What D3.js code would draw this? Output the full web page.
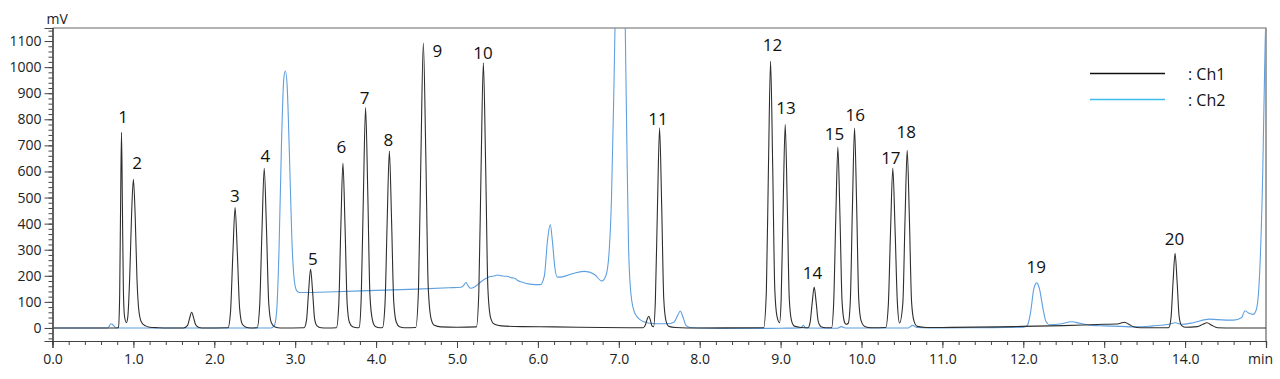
<!DOCTYPE html>
<html>
<head>
<meta charset="utf-8">
<script src="https://cdn.jsdelivr.net/npm/d3@7"></script>
<style>
  html, body { margin: 0; padding: 0; background: #fff; }
  svg { display: block; font-family: "Open Sans", "Noto Sans", sans-serif; }
</style>
</head>
<body>
<svg id="chart" width="1280" height="379"></svg>
<script>
// ---------- DATA ----------
const seriesNames = ["Ch1", "Ch2"];

// Ch1 trace: [time (min), signal (mV)]
const ch1 = [
  [0,0],[0.80,0],[0.815,2],[0.83,120],[0.842,480],[0.853,750],[0.864,470],[0.876,150],[0.89,45],[0.914,20],
  [0.93,40],[0.955,200],[0.978,440],[1.0,570],[1.022,430],[1.044,190],[1.07,60],[1.1,22],[1.15,8],[1.2,3],[1.3,1],[1.45,0],
  [1.62,0],[1.67,10],[1.695,38],[1.72,60],[1.745,38],[1.77,12],[1.81,2],[1.88,0],
  [2.17,1],[2.2,60],[2.229,280],[2.257,462],[2.285,285],[2.313,75],[2.345,15],[2.39,3],[2.45,0],
  [2.53,1],[2.56,80],[2.589,370],[2.617,612],[2.645,380],[2.673,95],[2.705,20],[2.75,4],[2.82,0],
  [3.11,1],[3.14,30],[3.165,137],[3.19,226],[3.215,140],[3.24,35],[3.27,8],[3.32,1],[3.4,0],
  [3.51,1],[3.538,85],[3.564,385],[3.59,632],[3.616,390],[3.642,95],[3.67,22],[3.71,5],[3.77,1],
  [3.79,2],[3.816,115],[3.843,510],[3.87,845],[3.897,520],[3.924,125],[3.955,30],[3.99,6],[4.05,1],
  [4.08,2],[4.11,92],[4.137,410],[4.164,678],[4.191,415],[4.218,100],[4.25,22],[4.29,5],[4.35,1],
  [4.49,2],[4.524,148],[4.554,660],[4.584,1092],[4.614,670],[4.644,160],[4.68,35],[4.72,10],[4.8,4],[5.0,3],
  [5.24,4],[5.27,140],[5.298,620],[5.326,1017],[5.354,625],[5.382,150],[5.415,40],[5.46,15],[5.55,8],[5.8,5],[6.2,4],[6.8,2],[7.2,1],
  [7.3,1],[7.33,12],[7.35,33],[7.37,45],[7.39,30],[7.41,8],[7.43,5],
  [7.452,105],[7.478,465],[7.504,767],[7.53,470],[7.556,110],[7.585,25],[7.62,6],[7.7,2],[8.0,0],
  [8.79,1],[8.824,140],[8.85,620],[8.876,1022],[8.902,625],[8.928,150],[8.955,45],[8.987,20],
  [9.007,110],[9.032,475],[9.057,780],[9.082,480],[9.107,115],[9.135,28],[9.17,7],[9.25,2],
  [9.34,1],[9.365,22],[9.39,95],[9.415,157],[9.44,97],[9.465,25],[9.5,5],[9.56,1],
  [9.63,1],[9.656,95],[9.682,420],[9.708,694],[9.734,425],[9.76,100],[9.79,22],[9.81,14],
  [9.836,18],[9.862,105],[9.888,465],[9.914,766],[9.94,470],[9.966,110],[9.995,28],[10.04,6],[10.12,1],
  [10.3,2],[10.331,85],[10.359,372],[10.387,612],[10.415,378],[10.443,100],[10.47,19],
  [10.511,95],[10.538,415],[10.565,681],[10.592,420],[10.619,100],[10.65,25],[10.69,6],[10.8,2],
  [11.0,2],[11.7,4],[12.0,6],[12.5,9],[13.0,14],[13.15,15],[13.2,18],[13.25,22],[13.3,15],[13.36,5],[13.45,1],[13.78,1],
  [13.8,2],[13.826,40],[13.851,175],[13.876,286],[13.901,178],[13.926,45],[13.955,10],[14.0,3],[14.15,5],[14.22,14],[14.27,20],[14.33,10],[14.4,1],[14.6,0],[15.0,0]
];

// Ch2 trace: [time (min), signal (mV)]
const ch2 = [
  [0,0],[0.68,0],[0.7,6],[0.72,16],[0.74,14],[0.77,4],[0.8,0],[2.7,0],[2.74,8],[2.77,60],[2.8,300],[2.83,700],[2.86,960],[2.879,985],[2.9,930],[2.93,650],[2.96,330],[2.99,180],[3.02,142],[3.05,136],
  [3.5,139],[4.0,144],[4.5,149],[4.9,154],[5.05,156],[5.08,162],[5.11,174],[5.14,160],[5.17,152],[5.22,158],[5.3,178],[5.4,196],[5.47,200],[5.5,203],[5.56,199],[5.62,198],[5.68,192],[5.72,190],[5.75,182],[5.8,176],[5.9,168],[6.03,166],
  [6.08,200],[6.12,340],[6.153,396],[6.18,330],[6.21,230],[6.24,195],[6.3,196],[6.45,210],[6.58,217],[6.7,205],[6.79,180],[6.84,200],[6.88,290],[6.91,500],[6.935,850],[6.953,1150],[6.98,1800],[7.02,2200],[7.06,1600],[7.08,1150],[7.1,700],[7.12,320],[7.15,130],[7.2,55],[7.3,25],[7.45,16],[7.6,16],[7.68,22],[7.73,50],[7.76,65],[7.79,45],[7.83,10],[7.88,2],
  [8.0,0],[8.5,-2],[9.0,-1],[9.25,0],[9.28,10],[9.31,0],[9.7,-1],[9.75,5],[9.8,0],[10.58,0],[10.63,10],[10.68,2],[11.0,0],[11.5,1],[12.0,3],
  [12.05,10],[12.09,60],[12.13,150],[12.167,173],[12.2,150],[12.24,80],[12.28,25],[12.33,12],[12.45,15],[12.6,24],[12.7,18],[12.85,10],[13.0,8],[13.2,6],[13.4,4],[13.6,8],[13.8,14],[13.88,20],[13.95,14],[14.1,20],[14.3,34],[14.4,32],[14.6,30],[14.7,40],[14.74,66],[14.79,56],[14.84,52],[14.88,70],[14.92,200],[14.96,600],[14.99,1100],[15.0,1200]
];

// Peak labels and their anchor points (time, mV)
const peakLabels = ["1","2","3","4","5","6","7","8","9","10","11","12","13","14","15","16","17","18","19","20"];
const labelTime  = [0.874,1.047,2.253,2.632,3.217,3.571,3.859,4.152,4.757,5.322,7.484,8.900,9.066,9.394,9.666,9.922,10.363,10.552,12.159,13.868];
const labelValue = [812,633,506,662,268,694,883,724,1062,1056,803,1087,844,211,745,819,655,752,234,343];

// Axis tick values / labels
const xMajorTicks = [0,1,2,3,4,5,6,7,8,9,10,11,12,13,14,15];
const xTickLabels = ["0.0","1.0","2.0","3.0","4.0","5.0","6.0","7.0","8.0","9.0","10.0","11.0","12.0","13.0","14.0","min"];
const yMajorTicks = [0,100,200,300,400,500,600,700,800,900,1000,1100];
const yTickLabels = ["0","100","200","300","400","500","600","700","800","900","1000","1100"];

// ---------- DRAW ----------
const svg = d3.select("#chart");
const L = 52.5, R = 1266, T = 28, B = 341;
const x = d3.scaleLinear().domain([0, 15]).range([L, R]);
const y = d3.scaleLinear().domain([-50, 1150]).range([B, T]);

const axisColor = "#444";
const colors = { Ch1: "#2e2e2e", Ch2: "#5d9fdf" };
const legendColors = { Ch1: "#111111", Ch2: "#3dbdee" };
const FONT = '"Open Sans", "Noto Sans", sans-serif';

svg.append("defs").append("clipPath").attr("id", "clip")
  .append("rect").attr("x", L).attr("y", T).attr("width", R - L).attr("height", B - T);

// frame (top & right)
svg.append("path")
  .attr("d", `M${L},${T}H${R}V${B}`)
  .attr("fill", "none").attr("stroke", "#666").attr("stroke-width", 1.2);

// X axis minor
const gxMinor = svg.append("g").attr("transform", `translate(0,${B})`)
  .call(d3.axisBottom(x).tickValues(x.ticks(75)).tickSize(4).tickFormat(""));
// X axis major
const gx = svg.append("g").attr("transform", `translate(0,${B})`)
  .call(d3.axisBottom(x).tickValues(xMajorTicks).tickSize(7).tickPadding(4)
    .tickFormat((d, i) => xTickLabels[i]));
gx.selectAll("text").attr("font-size", 14).attr("fill", "#222").attr("dy", "0.85em");
gx.selectAll("text").filter((d, i) => i === xMajorTicks.length - 1).attr("dx", -6);

// Y axis minor
const gyMinor = svg.append("g").attr("transform", `translate(${L},0)`)
  .call(d3.axisLeft(y).tickValues(y.ticks(60)).tickSize(4).tickFormat(""));
// Y axis major
const gy = svg.append("g").attr("transform", `translate(${L},0)`)
  .call(d3.axisLeft(y).tickValues(yMajorTicks).tickSize(8).tickPadding(3)
    .tickFormat((d, i) => yTickLabels[i]));
gy.selectAll("text").attr("font-size", 14).attr("fill", "#222");

[gxMinor, gx, gyMinor, gy].forEach(g => {
  g.selectAll(".domain").attr("stroke", axisColor).attr("stroke-width", 1.2);
  g.selectAll(".tick line").attr("stroke", axisColor);
  g.selectAll("text").attr("font-family", FONT);
});

// unit label
svg.append("text").attr("x", L - 6).attr("y", 24).attr("font-size", 14)
  .attr("font-family", FONT).attr("fill", "#222").text("mV");

// traces
const line = d3.line().x(d => x(d[0])).y(d => y(d[1])).curve(d3.curveMonotoneX);
const plot = svg.append("g").attr("clip-path", "url(#clip)");
plot.append("path").datum(ch2).attr("d", line).attr("fill", "none")
  .attr("stroke", colors.Ch2).attr("stroke-width", 1.1);
plot.append("path").datum(ch1).attr("d", line).attr("fill", "none")
  .attr("stroke", colors.Ch1).attr("stroke-width", 1.1);

// peak labels
svg.append("g").selectAll("text").data(peakLabels).join("text")
  .attr("x", (d, i) => x(labelTime[i]))
  .attr("y", (d, i) => y(labelValue[i]))
  .attr("text-anchor", "middle").attr("dominant-baseline", "central")
  .attr("font-size", 17).attr("font-family", FONT).attr("fill", "#111")
  .text(d => d);

// legend
const lg = svg.append("g");
seriesNames.forEach((name, i) => {
  const yy = 73.5 + i * 26;
  lg.append("line").attr("x1", 1090).attr("x2", 1165).attr("y1", yy).attr("y2", yy)
    .attr("stroke", legendColors[name]).attr("stroke-width", 1.6);
  lg.append("text").attr("x", 1188).attr("y", yy).attr("dominant-baseline", "central")
    .attr("font-size", 16).attr("font-family", FONT).attr("fill", "#111").text(": " + name);
});
</script>
</body>
</html>
